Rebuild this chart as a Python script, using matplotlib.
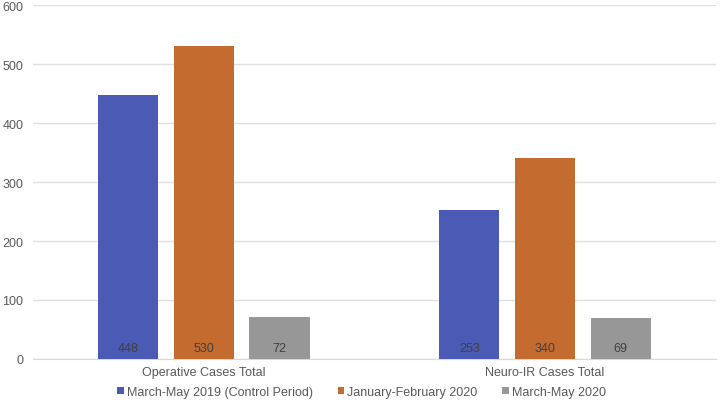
import numpy as np
import matplotlib
matplotlib.use('Agg')
import matplotlib.pyplot as plt

plt.rcParams['font.family'] = ['Liberation Sans', 'DejaVu Sans']

categories = ['Operative Cases Total', 'Neuro-IR Cases Total']
series_names = ['March-May 2019 (Control Period)', 'January-February 2020', 'March-May 2020']
values = [
    [448, 253],
    [530, 340],
    [72, 69],
]
colors = ['#4A5AB5', '#C46C30', '#979797']

fig = plt.figure(figsize=(7.23, 4.02), dpi=100)
ax = fig.add_axes([0.0456, 0.1045, 0.9444, 0.8805])

x = np.arange(len(categories))
width = 0.176
step = 0.222
for k, (name, vals) in enumerate(zip(series_names, values)):
    pos = x + (k - 1) * step
    ax.bar(pos, vals, width=width, color=colors[k], label=name, zorder=3)
    for p, v in zip(pos, vals):
        ax.text(p, 19, str(v), ha='center', va='center', fontsize=9,
                color='#404040', zorder=4)

ax.set_xlim(-0.5, 1.5)
ax.set_ylim(0, 600)
ax.set_yticks(range(0, 601, 100))
ax.set_xticks(x)
ax.set_xticklabels(categories)
ax.grid(axis='y', color='#E0E0E0', linewidth=1, zorder=0)
for s in ['top', 'right', 'left']:
    ax.spines[s].set_visible(False)
ax.spines['bottom'].set_color('#D9D9D9')
ax.tick_params(axis='both', length=0, labelsize=9, labelcolor='#595959')
ax.tick_params(axis='x', pad=5)
ax.tick_params(axis='y', pad=7)

fig.legend(loc='center', bbox_to_anchor=(0.5, 0.022), ncol=3, frameon=False,
           fontsize=9, handlelength=0.5, handleheight=0.5, handletextpad=0.25,
           columnspacing=2.0, labelcolor='#595959', borderpad=0)

fig.savefig('out.png', dpi=100)
